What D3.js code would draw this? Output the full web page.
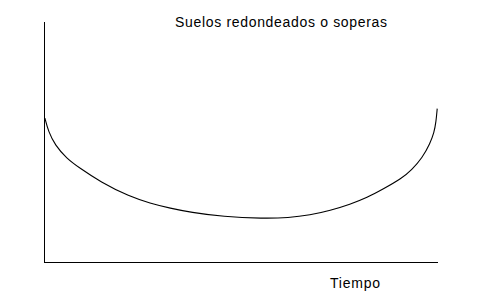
<!DOCTYPE html>
<html>
<head>
<meta charset="utf-8">
<script src="https://cdn.jsdelivr.net/npm/d3@7"></script>
<style>
body { margin: 0; background: #fff; }
svg { display: block; }
text { font-family: "Liberation Sans", Arial, sans-serif; fill: #000; }
</style>
</head>
<body>
<svg id="chart" width="479" height="293"></svg>
<script>
// tiempo (0-100) y nivel (0-100)
var tiempo = [0.1, 1.0, 2.7, 5.6, 9.0, 14.1, 21.7, 26.8, 32, 37.1, 45.4, 55.6, 62, 67.5, 72.6, 77.7, 82, 86, 90.8, 93.3, 96, 98, 99, 99.5, 99.8];
var nivel = [60, 54.4, 48.8, 43.3, 39.2, 33.6, 27.3, 24.7, 22.5, 20.9, 19, 18.3, 18.6, 19.7, 21.6, 24.2, 27, 30.5, 35, 38.5, 43.5, 49.6, 54, 58.5, 64];
var titulo = "Suelos redondeados o soperas";
var etiquetaX = "Tiempo";

var svg = d3.select("#chart");

var x = d3.scaleLinear().domain([0, 100]).range([44.5, 438]);
var y = d3.scaleLinear().domain([0, 100]).range([262.5, 22]);

// ejes sin marcas
svg.append("line")
    .attr("x1", x(0)).attr("x2", x(0))
    .attr("y1", y(100)).attr("y2", y(0))
    .attr("stroke", "#000").attr("stroke-width", 1)
    .attr("shape-rendering", "crispEdges");
svg.append("line")
    .attr("x1", x(0)).attr("x2", x(100))
    .attr("y1", y(0)).attr("y2", y(0))
    .attr("stroke", "#000").attr("stroke-width", 1)
    .attr("shape-rendering", "crispEdges");

var puntos = tiempo.map(function (t, i) {
    return [t, nivel[i]];
});

var linea = d3.line()
    .x(function (d) { return x(d[0]); })
    .y(function (d) { return y(d[1]); })
    .curve(d3.curveBasis);

svg.append("path")
    .datum(puntos)
    .attr("d", linea)
    .attr("fill", "none")
    .attr("stroke", "#000")
    .attr("stroke-width", 1.1);

svg.append("text")
    .attr("x", 175)
    .attr("y", 27)
    .attr("font-size", 14)
    .attr("textLength", 212)
    .attr("lengthAdjust", "spacing")
    .text(titulo);

svg.append("text")
    .attr("x", 330)
    .attr("y", 288)
    .attr("font-size", 14)
    .attr("textLength", 50)
    .attr("lengthAdjust", "spacing")
    .text(etiquetaX);
</script>
</body>
</html>
